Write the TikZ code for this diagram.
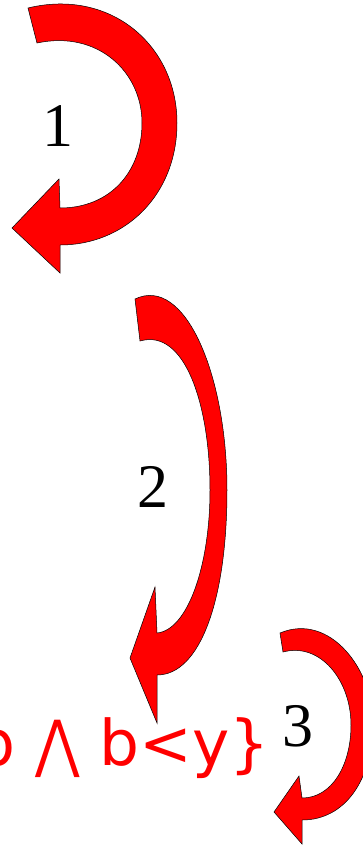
\documentclass[tikz,border=0pt]{standalone}
\usepackage{fontspec}
\usepackage{graphicx}
\setmainfont{Liberation Serif}
\newfontfamily\dejavu{DejaVu Sans}
\usepackage{tikz}
\definecolor{arrowred}{RGB}{255,0,0}
\tikzset{
  fatarrow/.style={fill=arrowred, draw=black, line width=0.5pt, line join=miter},
  steplabel/.style={font=\fontsize{62}{62}\selectfont, inner sep=0pt, text=black},
  condtext/.style={font=\dejavu\fontsize{63}{63}\selectfont, inner sep=0pt,
    text=arrowred, anchor=base east},
}

\begin{document}
\begin{tikzpicture}[x=1pt, y=-1pt]
  \useasboundingbox (0,0) rectangle (362,846);

  % arrow 1
  \draw[fatarrow] (28,8) .. controls (110,-12) and (177,45) .. (177,123)
    .. controls (177,195) and (125,245) .. (60,245)
    -- (60,273) -- (12,228) -- (59,179) -- (60,208)
    .. controls (110,208) and (142,172) .. (142,123)
    .. controls (142,72) and (98,30) .. (37,43) -- cycle;
  % arrow 2
  \draw[fatarrow] (135,299) .. controls (185,275) and (227,375) .. (227,490)
    .. controls (227,600) and (200,675) .. (157,675)
    -- (157,723) -- (130,658) -- (155,587) -- (157,633)
    .. controls (188,630) and (210,565) .. (210,490)
    .. controls (210,405) and (185,328) .. (140,341) -- cycle;
  % arrow 3
  \draw[fatarrow] (280,633) .. controls (330,612) and (373,670) .. (373,722)
    .. controls (373,780) and (345,820) .. (302,820)
    -- (302,844) -- (274,812) -- (299,776) -- (302,798)
    .. controls (332,798) and (351,765) .. (351,725)
    .. controls (351,680) and (320,642) .. (283,652) -- cycle;

  \node[steplabel] (lab1) at (58,126) {1};
  \node[steplabel] (lab2) at (153,487) {2};
  \node[steplabel] (lab3) at (298,726) {3};

  \node[condtext] (cond) at (270,765) {b \scalebox{0.86}[1]{⋀} b<y\}};
\end{tikzpicture}
\end{document}
